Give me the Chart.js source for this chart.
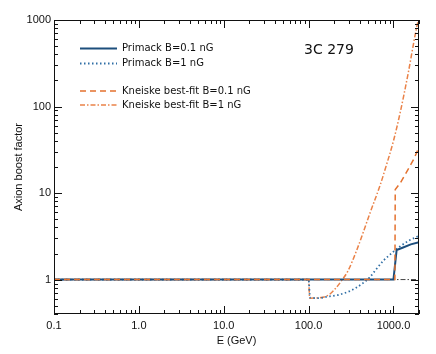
<!DOCTYPE html>
<html>
<head>
<meta charset="utf-8">
<script src="https://cdn.jsdelivr.net/npm/chart.js@4.4.0/dist/chart.umd.min.js"></script>
<style>
  html, body { margin: 0; padding: 0; background: #fff; }
  #wrap { width: 436px; height: 354px; }
</style>
</head>
<body>
<div id="wrap"><canvas id="c" width="436" height="354"></canvas></div>
<script>
/* ==========================
   DATA
========================== */
const primack01E = [0.1, 1000, 1090, 1300, 1600, 2000];
const primack01B = [1, 1, 2.2, 2.35, 2.55, 2.7];

const primack1E = [0.1, 100, 104, 130, 160, 230, 300, 360, 450, 520, 620, 760, 1000, 1150, 1500, 2000];
const primack1B = [1, 1, 0.62, 0.61, 0.63, 0.67, 0.73, 0.8, 0.93, 1.05, 1.3, 1.65, 2.1, 2.35, 2.8, 3.2];

const kneiske01E = [0.1, 1040, 1050, 1200, 1500, 1750, 2000];
const kneiske01B = [1, 1, 11, 13, 19, 25, 34];

const kneiske1E = [0.1, 100, 103, 140, 175, 210, 250, 290, 370, 530, 700, 800, 1000, 1200, 1500, 1800, 2000];
const kneiske1B = [1, 1, 0.61, 0.62, 0.67, 0.8, 1.0, 1.25, 2.2, 5.9, 12.5, 19, 40, 85, 250, 670, 1100];

const refE = [0.1, 2000];
const refB = [1, 1];

const xTicks = [0.1, 1, 10, 100, 1000];
const xTickLabels = ["0.1", "1.0", "10.0", "100.0", "1000.0"];
const yTicks = [1, 10, 100, 1000];
const yTickLabels = ["1", "10", "100", "1000"];
const xMinor = [0.2,0.3,0.4,0.5,0.6,0.7,0.8,0.9, 2,3,4,5,6,7,8,9, 20,30,40,50,60,70,80,90,
                200,300,400,500,600,700,800,900, 2000];
const yMinor = [0.4,0.5,0.6,0.7,0.8,0.9, 2,3,4,5,6,7,8,9, 20,30,40,50,60,70,80,90,
                200,300,400,500,600,700,800,900];

const pts = (xs, ys) => xs.map((x, i) => ({ x: x, y: ys[i] }));

/* ==========================
   BOX, INWARD TICKS, LEGEND
========================== */
function pixelOf(scale, v) {
  let p = scale.getPixelForValue(v);
  if (!isFinite(p)) {
    const lo = Math.log10(scale.min), hi = Math.log10(scale.max);
    p = scale.getPixelForDecimal((Math.log10(v) - lo) / (hi - lo));
  }
  return Math.round(p);
}

const axisBox = {
  id: "axisBox",
  afterDraw(chart) {
    const ctx = chart.ctx;
    const a = chart.chartArea;
    const sx = chart.scales.x, sy = chart.scales.y;
    const L = Math.round(a.left), R = Math.round(a.right);
    const T = Math.round(a.top), B = Math.round(a.bottom);

    ctx.save();
    ctx.setLineDash([]);
    ctx.globalAlpha = 1;
    ctx.fillStyle = "#111";
    // box
    ctx.fillRect(L, T, R - L, 1);
    ctx.fillRect(L, B - 1, R - L, 1);
    ctx.fillRect(L, T, 1, B - T);
    ctx.fillRect(R - 1, T, 1, B - T);

    // inward ticks on all four sides
    const tickX = (v, len) => {
      const px = pixelOf(sx, v);
      ctx.fillRect(px, B - len, 1, len);
      ctx.fillRect(px, T, 1, len);
    };
    const tickY = (v, len) => {
      const py = pixelOf(sy, v);
      ctx.fillRect(L, py, len, 1);
      ctx.fillRect(R - len, py, len, 1);
    };
    xTicks.forEach(v => tickX(v, 8));
    xMinor.forEach(v => tickX(v, 4));
    yTicks.forEach(v => tickY(v, 8));
    yMinor.forEach(v => tickY(v, 4));

    // legend
    const rows = [48.5, 63.5, 91, 105];
    ctx.font = "10px 'DejaVu Sans'";
    ctx.textBaseline = "middle";
    chart.data.datasets.forEach((ds, i) => {
      if (i >= rows.length) return;
      ctx.beginPath();
      ctx.strokeStyle = ds.borderColor;
      ctx.lineWidth = ds.borderWidth;
      ctx.setLineDash(ds.borderDash || []);
      ctx.moveTo(80, rows[i]); ctx.lineTo(117, rows[i]);
      ctx.stroke();
      ctx.setLineDash([]);
      ctx.fillStyle = "#111";
      ctx.fillText(ds.label, 122, rows[i]);
    });

    ctx.font = "14px 'DejaVu Sans'";
    ctx.fillStyle = "#111";
    ctx.fillText("3C 279", 304, 50);
    ctx.restore();
  }
};

/* ==========================
   CHART
========================== */
const tickFont = { family: "'Liberation Sans', Arial, sans-serif", size: 11 };

new Chart(document.getElementById("c"), {
  type: "scatter",
  data: {
    datasets: [
      { label: "Primack B=0.1 nG", data: pts(primack01E, primack01B), showLine: true,
        borderColor: "#1d4e7c", borderWidth: 2, pointRadius: 0, tension: 0, order: 1 },
      { label: "Primack B=1 nG", data: pts(primack1E, primack1B), showLine: true,
        borderColor: "#2f6ea5", borderWidth: 1.8, borderDash: [1.5, 2.5], pointRadius: 0,
        cubicInterpolationMode: "monotone", order: 2 },
      { label: "Kneiske best-fit B=0.1 nG", data: pts(kneiske01E, kneiske01B), showLine: true,
        borderColor: "#e4722f", borderWidth: 1.5, borderDash: [6, 4], pointRadius: 0,
        tension: 0, order: 0 },
      { label: "Kneiske best-fit B=1 nG", data: pts(kneiske1E, kneiske1B), showLine: true,
        borderColor: "#ea8248", borderWidth: 1.5, borderDash: [5, 2, 1.5, 2], pointRadius: 0,
        cubicInterpolationMode: "monotone", order: 3 },
      { label: "", data: pts(refE, refB), showLine: true,
        borderColor: "#444", borderWidth: 1, borderDash: [5, 2, 1.5, 2], pointRadius: 0, order: 5 }
    ]
  },
  options: {
    responsive: false,
    animation: false,
    layout: { padding: { left: 0, top: 20, right: 17, bottom: 0 } },
    plugins: { legend: { display: false }, tooltip: { enabled: false } },
    scales: {
      x: {
        type: "logarithmic", min: 0.1, max: 2000,
        grid: { display: false, drawTicks: false }, border: { display: false },
        afterBuildTicks: s => { s.ticks = xTicks.map(v => ({ value: v })); },
        afterFit: s => { s.height = 40; },
        ticks: { autoSkip: false, maxRotation: 0, padding: 5, color: "#111", font: tickFont,
                 callback: (v, i) => xTickLabels[i] },
        title: { display: true, text: "E (GeV)", color: "#111", font: tickFont,
                 padding: { top: 0, bottom: 6 } }
      },
      y: {
        type: "logarithmic", min: 0.4, max: 1000,
        grid: { display: false, drawTicks: false }, border: { display: false },
        afterBuildTicks: s => { s.ticks = yTicks.map(v => ({ value: v })); },
        afterFit: s => { s.width = 54; },
        ticks: { autoSkip: false, padding: 3, color: "#111", font: tickFont,
                 callback: (v, i) => yTickLabels[i] },
        title: { display: true, text: "Axion boost factor", color: "#111", font: tickFont,
                 padding: { top: 12, bottom: 0 } }
      }
    }
  },
  plugins: [axisBox]
});
</script>
</body>
</html>
